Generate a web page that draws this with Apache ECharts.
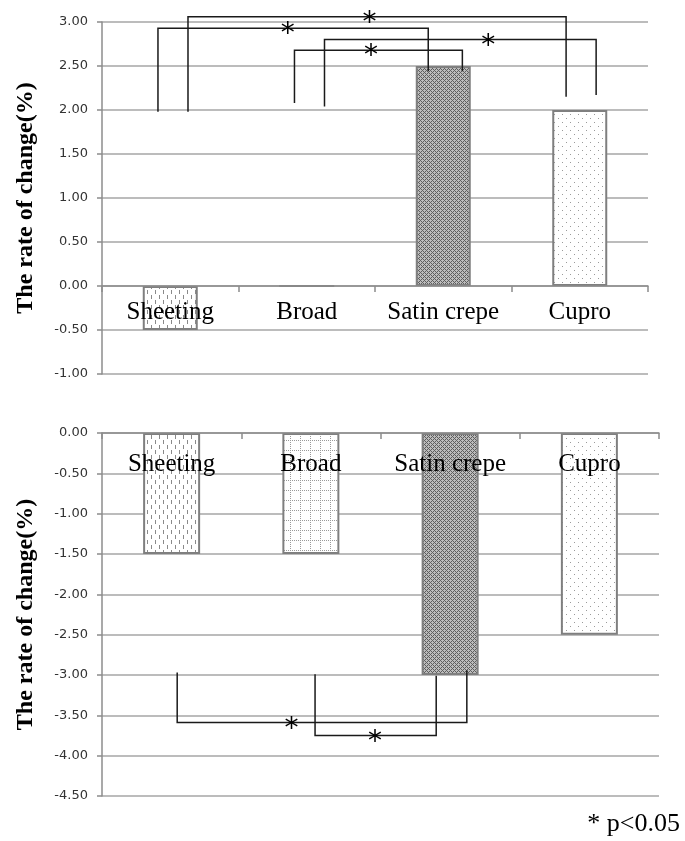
<!DOCTYPE html>
<html>
<head>
<meta charset="utf-8">
<script src="https://cdn.jsdelivr.net/npm/echarts@6/dist/echarts.min.js"></script>
<style>
  html, body { margin: 0; padding: 0; background: #fff; }
  #chart { width: 685px; height: 841px; }
</style>
</head>
<body>
<div id="chart"></div>
<script>
// Fabric categories shared by both panels
const categories = ['Sheeting', 'Broad', 'Satin crepe', 'Cupro'];

// Rate of change (%) for each fabric
const upperValues = [-0.5, 0, 2.5, 2.0];
const lowerValues = [-1.5, -1.5, -3.0, -2.5];

// Axis ranges / tick step
const upperTicks = { min: -1.0, max: 3.0, step: 0.5 };
const lowerTicks = { min: -4.5, max: 0.0, step: 0.5 };

// Significance brackets: [leftX, rightX, leftFootY, rightFootY, barY, starX]
// x in category units (0 = first category centre), y in % units
const upperBrackets = [
  [-0.09, 1.89, 1.98, 2.44, 2.93, 0.86],
  [0.13, 2.90, 1.98, 2.15, 3.06, 1.46],
  [0.91, 2.14, 2.08, 2.44, 2.68, 1.47],
  [1.13, 3.12, 2.04, 2.17, 2.80, 2.33]
];
const lowerBrackets = [
  [0.04, 2.12, -2.97, -2.94, -3.59, 0.86],
  [1.03, 1.90, -2.99, -3.01, -3.75, 1.46]
];

// ---- fill textures ----
function makeTile(w, h, bg, draw) {
  const c = document.createElement('canvas');
  c.width = w; c.height = h;
  const g = c.getContext('2d');
  g.fillStyle = bg; g.fillRect(0, 0, w, h);
  draw(g);
  return { image: c, repeat: 'repeat' };
}
const fills = [
  // dashed vertical stripes
  makeTile(8, 10, '#ffffff', g => {
    g.fillStyle = '#8a8a8a';
    g.fillRect(3, 0, 1, 4);
    g.fillRect(7, 5, 1, 4);
  }),
  // dotted grid
  makeTile(10, 10, '#ffffff', g => {
    g.fillStyle = '#9a9a9a';
    for (let i = 0; i < 10; i += 2) { g.fillRect(i, 0, 1, 1); g.fillRect(0, i, 1, 1); }
  }),
  // dense crosshatch
  makeTile(4, 4, '#bcbcbc', g => {
    g.fillStyle = '#5e5e5e';
    for (let x = 0; x < 4; x++) for (let y = 0; y < 4; y++) {
      if ((x + y) % 4 === 0 || (x - y + 4) % 4 === 0) g.fillRect(x, y, 1, 1);
    }
  }),
  // sparse dots
  makeTile(8, 8, '#ffffff', g => {
    g.fillStyle = '#9a9a9a';
    g.fillRect(2, 2, 1, 1);
    g.fillRect(6, 6, 1, 1);
  })
];

const gridColor = '#a6a6a6';
const axisColor = '#8c8c8c';

function barData(values) {
  return values.map((v, i) => ({
    value: v,
    itemStyle: { color: fills[i], borderColor: '#7f7f7f', borderWidth: 2 }
  }));
}

// category axis drawn along the zero line (offset up from the grid bottom)
function catAxis(gridIndex, offset, margin) {
  return {
    type: 'category', gridIndex, data: categories, z: 10,
    position: 'bottom', offset,
    axisLine: { onZero: false, lineStyle: { color: axisColor, width: 1.5 } },
    axisTick: { show: true, interval: 0, length: 6, lineStyle: { color: axisColor, width: 1.5 } },
    axisLabel: { interval: 0, hideOverlap: false, margin,
                 fontFamily: 'Liberation Serif', fontSize: 25, color: '#000' },
    splitLine: { show: false }
  };
}
function annotAxis(gridIndex) {
  return { type: 'value', gridIndex, min: -0.5, max: 3.5, show: false };
}
function valAxis(gridIndex, t) {
  return {
    type: 'value', gridIndex, min: t.min, max: t.max, interval: t.step,
    name: 'The rate of change(%)', nameLocation: 'middle', nameGap: 64,
    nameTextStyle: { fontFamily: 'Liberation Serif', fontSize: 24, fontWeight: 'bold', color: '#000' },
    axisLine: { show: true, onZero: false, lineStyle: { color: axisColor, width: 1.5 } },
    axisTick: { show: true, length: 5, lineStyle: { color: axisColor, width: 1.5 } },
    splitLine: { show: true, lineStyle: { color: gridColor, width: 1.5 } },
    axisLabel: {
      margin: 14, fontFamily: 'DejaVu Sans', fontSize: 13, color: '#333',
      formatter: v => v.toFixed(2)
    }
  };
}

function bracketSeries(xAxisIndex, yAxisIndex, data) {
  return {
    type: 'custom', xAxisIndex, yAxisIndex, data, clip: false, z: 20,
    encode: { x: [0, 1, 5], y: [2, 3, 4] },
    renderItem(params, api) {
      const a = api.coord([api.value(0), api.value(2)]);
      const b = api.coord([api.value(0), api.value(4)]);
      const c = api.coord([api.value(1), api.value(4)]);
      const d = api.coord([api.value(1), api.value(3)]);
      const s = api.coord([api.value(5), api.value(4)]);
      return {
        type: 'group',
        children: [
          { type: 'polyline', shape: { points: [a, b, c, d] },
            style: { stroke: '#1a1a1a', lineWidth: 1.5, fill: null } },
          { type: 'text', x: s[0], y: s[1] + 7,
            style: { text: '*', font: '28px "DejaVu Sans"', fill: '#000',
                     align: 'center', verticalAlign: 'middle' } }
        ]
      };
    }
  };
}

const chart = echarts.init(document.getElementById('chart'), null, { renderer: 'canvas' });
chart.setOption({
  animation: false,
  backgroundColor: '#fff',
  grid: [
    { left: 102, right: 37, top: 22, height: 352 },
    { left: 102, right: 26, top: 433, height: 363 }
  ],
  xAxis: [catAxis(0, -88, 14), catAxis(1, -363, 19), annotAxis(0), annotAxis(1)],
  yAxis: [valAxis(0, upperTicks), valAxis(1, lowerTicks)],
  series: [
    { type: 'bar', xAxisIndex: 0, yAxisIndex: 0, barWidth: 55, data: barData(upperValues) },
    { type: 'bar', xAxisIndex: 1, yAxisIndex: 1, barWidth: 57, data: barData(lowerValues) },
    bracketSeries(2, 0, upperBrackets),
    bracketSeries(3, 1, lowerBrackets)
  ],
  graphic: [
    { type: 'text', right: 5, top: 811,
      style: { text: '* p<0.05', font: '26px "Liberation Serif"', fill: '#000' } }
  ]
});
</script>
</body>
</html>
